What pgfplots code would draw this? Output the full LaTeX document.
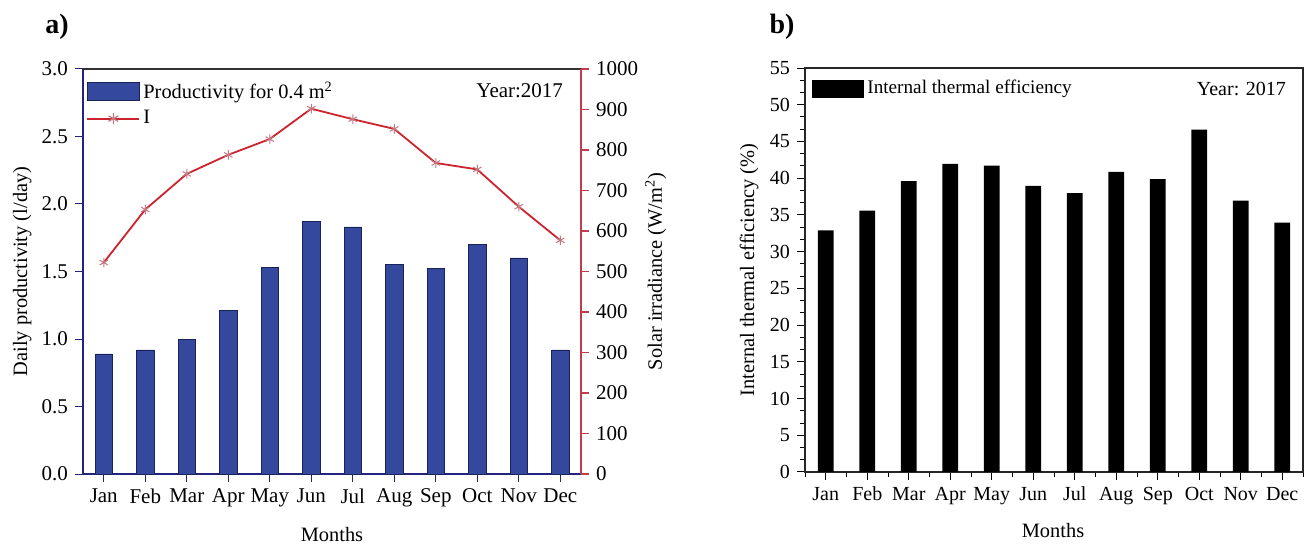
\documentclass[border=0pt]{standalone}
\usepackage{pgfplots}
\pgfplotsset{compat=1.18}
\usepackage{fontspec}
\setmainfont{Liberation Serif}
\definecolor{barblue}{RGB}{52,72,158}
\definecolor{barline}{RGB}{25,35,90}
\definecolor{navy}{RGB}{35,35,130}
\definecolor{lred}{RGB}{205,35,45}
\definecolor{axred}{RGB}{195,60,75}
\definecolor{mkpink}{RGB}{195,120,130}
\pgfplotsset{
  common/.style={
    scale only axis, anchor=south west,
    width=249pt,
    xmin=-0.5, xmax=11.5,
    tick align=outside,
    major tick length=4pt, minor tick length=2.5pt,
    label style={font=\fontsize{10.2}{12}\selectfont},
    /pgf/number format/assume math mode=true,
    /pgf/number format/1000 sep={},
    yticklabel={\pgfmathprintnumber[assume math mode=true]{\tick}},
    xtick={0,...,11},
    xticklabels={Jan,Feb,Mar,Apr,May,Jun,Jul,Aug,Sep,Oct,Nov,Dec},
  },
  barleg/.style={legend image code/.code={\fill[##1] (0pt,-4.5pt) rectangle (26pt,4.5pt);}},
  lineleg/.style={legend image code/.code={\draw[##1] (0pt,0pt) -- (26pt,0pt); \path[##1] plot coordinates {(13pt,0pt)};}},
}
\begin{document}
\begin{tikzpicture}
\path[use as bounding box] (0pt,0pt) rectangle (654.5pt,272.5pt);
% ---------------- panel a ----------------
\begin{axis}[common,
  at={(41.5pt,35.5pt)}, height=202.5pt,
  tick label style={font=\fontsize{10.5}{12}\selectfont},
  ymin=0, ymax=3,
  ytick={0,0.5,...,3},
  yticklabel style={/pgf/number format/.cd, fixed, fixed zerofill, precision=1},
  axis x line*=bottom, axis y line*=left,
  x axis line style={navy, line width=0.6pt},
  y axis line style={navy, line width=0.6pt},
  every tick/.style={navy, line width=0.5pt},
  xlabel={Months}, ylabel={Daily productivity (l/day)},
  xlabel style={at={(axis description cs:0.5,-0.15)}, anchor=center},
  ylabel style={at={(axis description cs:-0.122,0.5)}, anchor=center},
  legend style={draw=none, fill=none, at={(axis description cs:0.006,0.977)}, anchor=north west,
    font=\fontsize{10.2}{11}\selectfont, inner sep=0pt, row sep=1.5pt, nodes={inner sep=1.5pt}},
  legend cell align=left,
]
\addplot[ybar, bar width=0.42, fill=barblue, draw=barline, line width=0.3pt, barleg] coordinates {
 (0,0.89) (1,0.92) (2,1.00) (3,1.21) (4,1.53) (5,1.87)
 (6,1.83) (7,1.55) (8,1.52) (9,1.70) (10,1.60) (11,0.92)};
\addlegendentry{Productivity for 0.4 m\textsuperscript{2}}
\addlegendimage{lred, line width=1pt, mark=asterisk, mark options={mkpink, line width=0.6pt}, mark size=2.8pt, lineleg}
\addlegendentry{I}
\draw[black!80, line width=0.6pt] (rel axis cs:0,1) -- (rel axis cs:1,1);
\node[anchor=east, font=\fontsize{10.5}{12}\selectfont] at (axis description cs:0.978,0.946) {Year:2017};
\end{axis}
\begin{axis}[common,
  at={(41.5pt,35.5pt)}, height=202.5pt,
  tick label style={font=\fontsize{10.5}{12}\selectfont},
  ymin=0, ymax=1000,
  ytick={0,100,...,1000},
  axis y line*=right, axis x line=none,
  y axis line style={axred, line width=0.6pt},
  every tick/.style={axred, line width=0.6pt},
  ylabel={Solar irradiance (W/m\textsuperscript{2})},
  ylabel style={at={(axis description cs:1.15,0.5)}, anchor=center, rotate=0},
]
\addplot[lred, line width=0.9pt, mark=asterisk, mark size=2.4pt, mark options={mkpink, line width=0.5pt}] coordinates {
 (0,522) (1,653) (2,741) (3,788) (4,827) (5,902)
 (6,876) (7,852) (8,768) (9,752) (10,660) (11,577)};
\end{axis}
\node[font=\bfseries\fontsize{14}{16}\selectfont] at (28.5pt,259pt) {a)};
% ---------------- panel b ----------------
\begin{axis}[common,
  at={(402.5pt,36.5pt)}, height=202pt,
  tick label style={font=\fontsize{10}{12}\selectfont},
  ymin=0, ymax=55,
  ytick={0,5,...,55},
  minor y tick num=2,
  minor xtick={-0.5,0.5,...,11.5},
  xtick pos=bottom, ytick pos=left,
  axis line style={black!85, line width=0.6pt},
  every tick/.style={black, line width=0.5pt},
  xlabel={Months}, ylabel={Internal thermal efficiency (\%)},
  xlabel style={at={(axis description cs:0.498,-0.144)}, anchor=center},
  ylabel style={at={(axis description cs:-0.112,0.5)}, anchor=center},
  legend style={draw=none, fill=none, at={(axis description cs:0.014,0.978)}, anchor=north west,
    font=\fontsize{9.6}{11}\selectfont, inner sep=0pt, nodes={inner sep=1.5pt}},
  legend cell align=left,
]
\addplot[ybar, bar width=0.38, fill=black, draw=none, barleg] coordinates {
 (0,32.9) (1,35.6) (2,39.6) (3,41.95) (4,41.7) (5,38.95)
 (6,37.95) (7,40.86) (8,39.86) (9,46.6) (10,36.95) (11,33.95)};
\addlegendentry{Internal thermal efficiency}
\node[anchor=east, font=\fontsize{10}{12}\selectfont] at (axis description cs:0.98,0.948) {Year: 2017};
\end{axis}
\node[font=\bfseries\fontsize{14}{16}\selectfont] at (391pt,259pt) {b)};
\end{tikzpicture}
\end{document}
